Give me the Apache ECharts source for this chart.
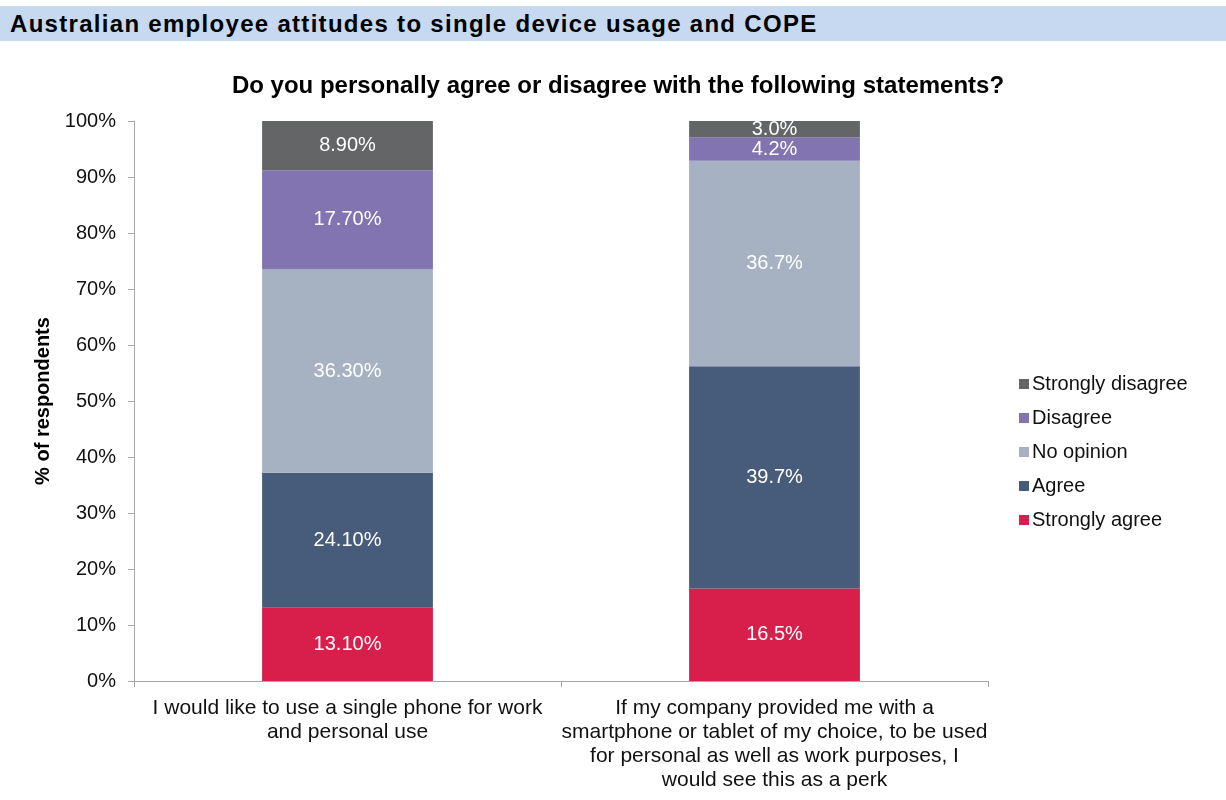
<!DOCTYPE html>
<html>
<head>
<meta charset="utf-8">
<script src="https://cdn.jsdelivr.net/npm/echarts@6/dist/echarts.min.js"></script>
<style>
html,body{margin:0;padding:0;background:#fff;}
#band{position:absolute;left:0;top:6px;width:1226px;height:35px;background:#c6d9f0;}
#band span{position:absolute;left:10px;top:5px;font-family:"Liberation Sans",Arial,sans-serif;font-weight:bold;font-size:24px;letter-spacing:1.3px;line-height:26px;color:#000;white-space:nowrap;}
#chart{position:absolute;left:0;top:0;width:1226px;height:800px;}
</style>
</head>
<body>
<div id="band"><span>Australian employee attitudes to single device usage and COPE</span></div>
<div id="chart"></div>
<script>
const categories = [
  "I would like to use a single phone for work\nand personal use",
  "If my company provided me with a\nsmartphone or tablet of my choice, to be used\nfor personal as well as work purposes, I\nwould see this as a perk"
];
const seriesNames = ["Strongly agree", "Agree", "No opinion", "Disagree", "Strongly disagree"];
const stronglyAgree = [13.1, 16.5];
const agree = [24.1, 39.7];
const noOpinion = [36.3, 36.7];
const disagree = [17.7, 4.2];
const stronglyDisagree = [8.9, 3.0];
const stronglyAgreeLabels = ["13.10%", "16.5%"];
const agreeLabels = ["24.10%", "39.7%"];
const noOpinionLabels = ["36.30%", "36.7%"];
const disagreeLabels = ["17.70%", "4.2%"];
const stronglyDisagreeLabels = ["8.90%", "3.0%"];
const yTicks = [0, 10, 20, 30, 40, 50, 60, 70, 80, 90, 100];

const colors = ["#d81f4b", "#475b7a", "#a6b1c1", "#8174b0", "#646567"];
const values = [stronglyAgree, agree, noOpinion, disagree, stronglyDisagree];
const labels = [stronglyAgreeLabels, agreeLabels, noOpinionLabels, disagreeLabels, stronglyDisagreeLabels];
const font = "'Liberation Sans', Arial, sans-serif";

const chart = echarts.init(document.getElementById('chart'), null, {renderer: 'canvas'});
const series = seriesNames.map((name, i) => ({
  name: name,
  type: 'bar',
  stack: 'total',
  barWidth: '40%',
  itemStyle: {color: colors[i]},
  data: values[i].map((v, j) => ({value: v, lbl: labels[i][j]})),
  label: {
    show: true,
    position: 'inside',
    color: '#fff',
    fontFamily: font,
    fontSize: 20,
    formatter: p => p.data.lbl
  },
  emphasis: {disabled: true}
}));

chart.setOption({
  animation: false,
  title: {
    text: "Do you personally agree or disagree with the following statements?",
    left: 613, textAlign: 'center', top: 69,
    textStyle: {fontFamily: font, fontWeight: 'bold', fontSize: 24, color: '#000'}
  },
  grid: {left: 134, right: 238, top: 121, bottom: 119, containLabel: false},
  legend: {
    orient: 'vertical',
    left: 1014, top: 369,
    itemWidth: 10, itemHeight: 10, itemGap: 14,
    icon: 'rect',
    data: seriesNames.slice().reverse(),
    textStyle: {fontFamily: font, fontSize: 20, color: '#111', padding: [0,0,0,-2]}
  },
  xAxis: {
    type: 'category',
    data: categories,
    axisLine: {lineStyle: {color: '#a6a6a6'}},
    axisTick: {show: true, alignWithLabel: false, length: 6, lineStyle: {color: '#a6a6a6'}},
    axisLabel: {fontFamily: font, fontSize: 21, color: '#111', lineHeight: 24, margin: 15, interval: 0}
  },
  yAxis: {
    type: 'value',
    min: 0, max: 100, interval: 10,
    name: '% of respondents',
    nameLocation: 'middle',
    nameGap: 75,
    nameTextStyle: {fontFamily: font, fontWeight: 'bold', fontSize: 20, color: '#000'},
    axisLine: {show: true, lineStyle: {color: '#a6a6a6'}},
    axisTick: {show: true, length: 6, lineStyle: {color: '#a6a6a6'}},
    splitLine: {show: false},
    axisLabel: {fontFamily: font, fontSize: 20, color: '#111', margin: 18,
      formatter: v => yTicks.includes(v) ? v + '%' : ''}
  },
  series: series
});
</script>
</body>
</html>
